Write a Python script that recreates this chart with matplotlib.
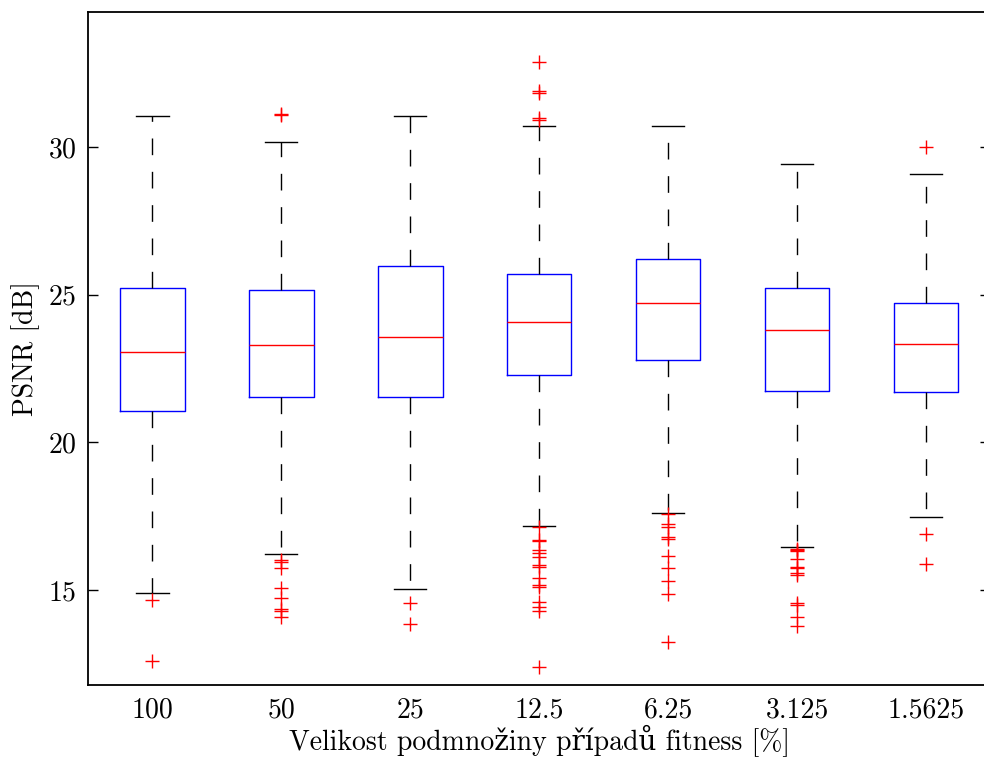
import matplotlib
matplotlib.use("Agg")
import matplotlib.pyplot as plt

plt.rcParams['font.family'] = ['cmr10', 'DejaVu Serif']
plt.rcParams['axes.formatter.use_mathtext'] = True

labels = ["100", "50", "25", "12.5", "6.25", "3.125", "1.5625"]
whislo = [14.90, 16.22, 15.03, 17.17, 17.61, 16.45, 17.47]
q1 = [21.06, 21.53, 21.53, 22.28, 22.79, 21.74, 21.70]
med = [23.06, 23.29, 23.57, 24.07, 24.72, 23.80, 23.33]
q3 = [25.23, 25.16, 25.97, 25.70, 26.21, 25.23, 24.72]
whishi = [31.05, 30.17, 31.05, 30.71, 30.71, 29.42, 29.09]
fliers = [
    [14.66, 12.60],
    [31.08, 31.12, 16.01, 15.96, 15.74, 15.07, 14.73, 14.36, 14.30, 14.08],
    [14.56, 13.85],
    [32.88, 31.90, 31.83, 30.98, 30.90, 17.13, 16.69, 16.65, 16.35, 16.25,
     16.12, 15.85, 15.78, 15.40, 15.17, 15.10, 14.59, 14.42, 14.29, 12.39],
    [17.57, 17.23, 17.13, 16.79, 16.73, 16.15, 15.74, 15.30, 14.86, 13.24],
    [16.39, 16.35, 16.33, 16.05, 15.78, 15.73, 15.57, 15.50, 14.56, 14.50,
     14.08, 13.78],
    [30.00, 16.89, 15.88],
]

stats = []
for i in range(len(labels)):
    stats.append(dict(label=labels[i], whislo=whislo[i], q1=q1[i], med=med[i],
                      q3=q3[i], whishi=whishi[i], fliers=fliers[i]))

fig = plt.figure(figsize=(9.84, 7.6), dpi=100)
ax = fig.add_axes([0.0894, 0.0987, 0.9172, 0.8855])

ax.bxp(stats, widths=0.5, capwidths=0.25,
       boxprops=dict(color="#0000ff", linewidth=1.0),
       medianprops=dict(color="#ff0000", linewidth=1.0),
       whiskerprops=dict(color="black", linewidth=1.0, linestyle=(0, (12, 12))),
       capprops=dict(color="black", linewidth=1.0),
       flierprops=dict(marker="+", markeredgecolor="#ff0000", markersize=10,
                       markeredgewidth=1.0, linestyle="none"))

ax.set_xlim(0.5, 7.5)
ax.set_ylim(11.78, 34.57)
ax.set_yticks([15, 20, 25, 30])
ax.tick_params(axis="y", direction="in", length=7, width=1, right=True,
               labelsize=20, pad=8)
ax.tick_params(axis="x", length=0, labelsize=20, pad=9)
for s in ax.spines.values():
    s.set_linewidth(1.3)

ax.set_xlabel("Velikost podmnožiny případů fitness [%]", fontsize=20, labelpad=0)
ax.set_ylabel("PSNR [dB]", fontsize=20, labelpad=6)

fig.savefig("out.png", dpi=100)
